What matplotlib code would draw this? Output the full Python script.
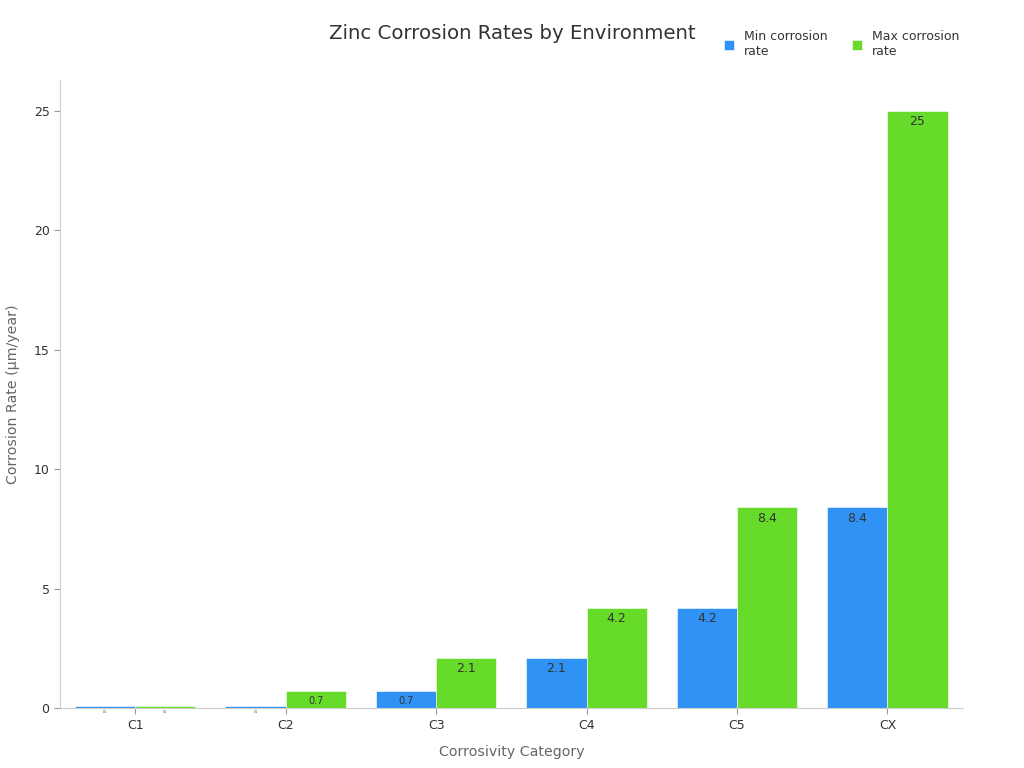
import numpy as np
import matplotlib.pyplot as plt

categories = ["C1", "C2", "C3", "C4", "C5", "CX"]
min_rate = [0.1, 0.1, 0.7, 2.1, 4.2, 8.4]
max_rate = [0.1, 0.7, 2.1, 4.2, 8.4, 25]

blue = "#3092F5"
green = "#66DB29"

fig = plt.figure(figsize=(10.24, 7.68), dpi=100)
ax = fig.add_axes([0.0586, 0.078, 0.8815, 0.818])

x = np.arange(len(categories))
w = 0.4
b1 = ax.bar(x - w / 2, min_rate, w, color=blue, edgecolor="white", linewidth=0.4,
            label="Min corrosion\nrate")
b2 = ax.bar(x + w / 2, max_rate, w, color=green, edgecolor="white", linewidth=0.4,
            label="Max corrosion\nrate")


def label_bars(bars, vals):
    for bar, v in zip(bars, vals):
        if v < 0.5:
            fs = 2
        elif v < 1:
            fs = 7
        else:
            fs = 9
        ax.annotate(f"{v:g}", (bar.get_x() + bar.get_width() / 2, v),
                    xytext=(0, -3), textcoords="offset points",
                    ha="center", va="top", fontsize=fs, color="#333333")


label_bars(b1, min_rate)
label_bars(b2, max_rate)

ax.set_xlim(-0.5, len(categories) - 0.5)
ax.set_ylim(0, 26.3)
ax.set_yticks([0, 5, 10, 15, 20, 25])
ax.set_xticks(x)
ax.set_xticklabels(categories)
ax.tick_params(labelsize=9, colors="#333333")
ax.tick_params(axis="both", color="#999999", length=4)
for s in ["top", "right"]:
    ax.spines[s].set_visible(False)
for s in ["left", "bottom"]:
    ax.spines[s].set_color("#cccccc")

ax.set_xlabel("Corrosivity Category", fontsize=10.2, color="#666666", labelpad=10)
ax.set_ylabel("Corrosion Rate (µm/year)", fontsize=10.2, color="#666666", labelpad=10)
fig.text(0.5, 0.957, "Zinc Corrosion Rates by Environment", ha="center", va="center",
         fontsize=14.2, color="#333333")

fig.legend(loc="upper right", bbox_to_anchor=(0.948, 0.975), ncol=2, frameon=False,
           fontsize=9, handlelength=0.8, handleheight=0.8, columnspacing=2.0,
           labelcolor="#333333")

fig.savefig("out.png", dpi=100)
